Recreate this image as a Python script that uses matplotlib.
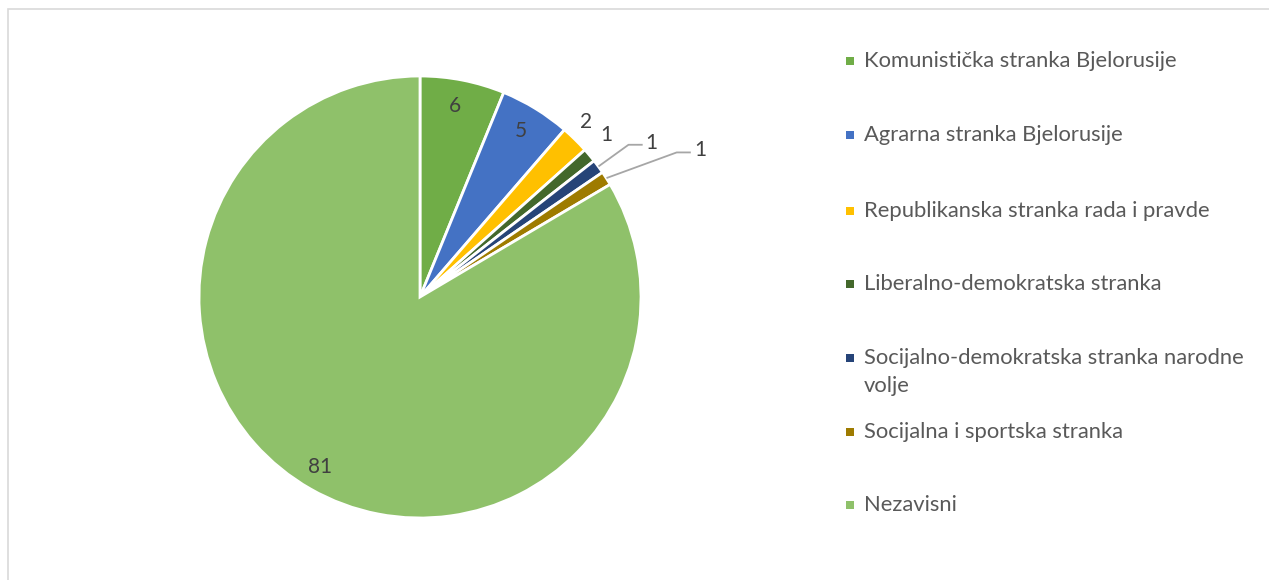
import numpy as np
import matplotlib
matplotlib.use("Agg")
import matplotlib.pyplot as plt
from matplotlib.patches import Rectangle
import textwrap

categories = ["Komunistička stranka Bjelorusije", "Agrarna stranka Bjelorusije",
              "Republikanska stranka rada i pravde", "Liberalno-demokratska stranka",
              "Socijalno-demokratska stranka narodne volje", "Socijalna i sportska stranka",
              "Nezavisni"]
values = [6, 5, 2, 1, 1, 1, 81]
colors = ["#70AD47", "#4472C4", "#FFC000", "#43682B", "#264478", "#9E7B00", "#8FC16A"]

# label placement (style): radius factor, angle shift (deg), leader flag
label_r = [0.88, 0.88, 1.09, 1.12, 1.26, 1.43, 0.89]
label_da = [0.8, 0.2, 1.0, 1.1, -2.5, -4.8, -0.7]
leader = [False, False, False, False, True, True, False]

W, H = 1269, 580
fig = plt.figure(figsize=(W / 100, H / 100), dpi=100)
fig.patch.set_facecolor("white")
fig.add_artist(Rectangle((8 / W, -0.1), 1.2, 1.1 - 9 / H, transform=fig.transFigure,
                         fill=False, edgecolor="#D9D9D9", linewidth=1.2))

cx, cy, R = 420, 297, 221
ax = fig.add_axes([(cx - R) / W, (H - cy - R) / H, 2 * R / W, 2 * R / H])
ax.pie(values, colors=colors, startangle=90, counterclock=False, radius=1,
       wedgeprops=dict(edgecolor="white", linewidth=2))
ax.set_xlim(-1, 1)
ax.set_ylim(-1, 1)
ax.set_aspect("equal")
ax.axis("off")

total = sum(values)
cum = np.cumsum([0] + values)
for i, v in enumerate(values):
    mid = (cum[i] + cum[i + 1]) / 2 / total * 360
    ang = np.deg2rad(90 - mid + label_da[i])
    lx, ly = label_r[i] * np.cos(ang), label_r[i] * np.sin(ang)
    ax.text(lx, ly, str(v), ha="center", va="center", fontsize=15,
            color="#404040", family="Lato", clip_on=False)
    if leader[i]:
        a0 = np.deg2rad(90 - mid)
        x0, y0 = 1.005 * np.cos(a0), 1.005 * np.sin(a0)
        xe = lx - 0.045
        xk = xe - 0.06
        ax.plot([x0, xk, xe], [y0, ly - 0.01, ly - 0.01], color="#A6A6A6",
                linewidth=1.3, clip_on=False)

# legend
ys = [61, 135, 211, 284, 358, 432, 505]
line_gap = 28
for i, c in enumerate(categories):
    y = ys[i]
    fig.add_artist(Rectangle((846 / W, (H - y - 4) / H), 8 / W, 8 / H,
                             transform=fig.transFigure, facecolor=colors[i],
                             edgecolor="none"))
    for k, line in enumerate(textwrap.wrap(c, 38)):
        fig.text(864 / W, (H - y - k * line_gap) / H, line, ha="left", va="center",
                 fontsize=15.8, color="#595959", family="Lato")

fig.savefig("out.png", dpi=100, facecolor="white")
